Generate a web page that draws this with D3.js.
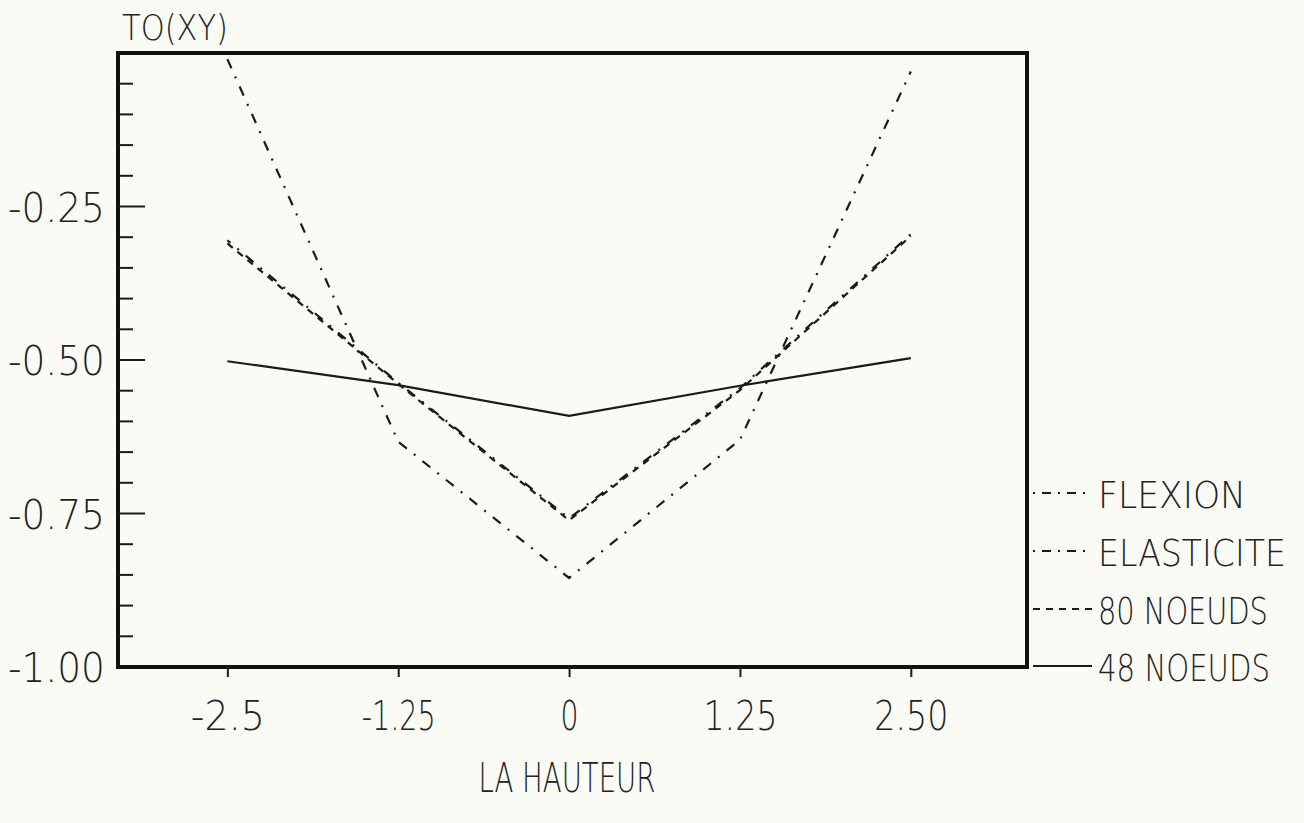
<!DOCTYPE html>
<meta charset="utf-8">
<title>TO(XY) - la hauteur</title>

<style>
body {
  margin: 0px;
  background-color: #fbfbf6;
}
svg {
  background-color: #fbfbf6;
}
text {
  font-family: "DejaVu Sans", sans-serif;
  font-weight: 200;
  fill: #222;
}
.frame {
  fill: none;
  stroke: #111;
  stroke-width: 4;
}
.curve {
  fill: none;
  stroke: #1a1a1a;
  stroke-width: 2.2;
}
</style>

<script src="https://d3js.org/d3.v7.min.js"></script>

<body>
<script>

// Data
var hauteur = [-2.5, -1.25, 0, 1.25, 2.5];
var flexion = [-0.01, -0.633, -0.855, -0.630, -0.03];
var elasticite = [-0.305, -0.537, -0.758, -0.546, -0.295];
var noeuds80 = [-0.31, -0.539, -0.761, -0.549, -0.298];
var noeuds48 = [-0.502, -0.541, -0.591, -0.542, -0.497];

// Tick labels
var xTickLabels = ["-2.5", "-1.25", "0", "1.25", "2.50"];
var yMajorTicks = [-1, -0.75, -0.5, -0.25];
var yTickLabels = ["-1.00", "-0.75", "-0.50", "-0.25"];

// Legend entries
var seriesNames = ["FLEXION", "ELASTICITE", "80 NOEUDS", "48 NOEUDS"];
var seriesData = [flexion, elasticite, noeuds80, noeuds48];
var seriesDash = ["10,9,2,9", "10,9,2,9", "7,6", null];

var width = 1304, height = 823;

var svg = d3.select("body").append("svg")
    .attr("width", width)
    .attr("height", height);

// Squeeze a text horizontally to a given width (narrow plotter lettering)
// anchor: 0 = start, 0.5 = middle, 1 = end
function fitText(sel, x0, y0, w, anchor) {
  sel.each(function(d, i) {
    var t = d3.select(this);
    var tw = typeof w === "function" ? w(d, i) : w;
    var tx = typeof x0 === "function" ? x0(d, i) : x0;
    var ty = typeof y0 === "function" ? y0(d, i) : y0;
    var natural = this.getComputedTextLength();
    var sx = tw / natural;
    t.attr("x", 0).attr("y", 0)
      .attr("text-anchor", "start")
      .attr("transform", "translate(" + (tx - anchor * tw) + "," + ty + ") scale(" + sx + ",1)");
  });
}

// Scales
var x = d3.scaleLinear()
    .domain([-3.3, 3.35])
    .range([118, 1027]);
var y = d3.scaleLinear()
    .domain([-1, 0])
    .range([667, 53]);

// Frame
svg.append("rect")
    .attr("class", "frame")
    .attr("x", x.range()[0])
    .attr("y", y.range()[1])
    .attr("width", x.range()[1] - x.range()[0])
    .attr("height", y.range()[0] - y.range()[1]);

// Y ticks (pointing inward), minor every 0.05
var yMinor = y.ticks(20).filter(function(d) { return d > -1 && d < 0; });
svg.append("g").selectAll("line")
    .data(yMinor)
  .enter().append("line")
    .attr("x1", x.range()[0])
    .attr("x2", function(d) {
      var major = yMajorTicks.some(function(m) { return Math.abs(m - d) < 1e-6; });
      return x.range()[0] + (major ? 27 : 15);
    })
    .attr("y1", function(d) { return y(d); })
    .attr("y2", function(d) { return y(d); })
    .attr("stroke", "#1a1a1a")
    .attr("stroke-width", 2);

// Y tick labels
svg.append("g").selectAll("text")
    .data(yMajorTicks)
  .enter().append("text")
    .style("font-size", "40px")
    .text(function(d, i) { return yTickLabels[i]; })
    .call(fitText, 105, function(d) { return y(d) + 15; }, 97, 1);

// X axis (ticks below the frame)
var xAxis = d3.axisBottom(x)
    .tickValues(hauteur)
    .tickSize(10)
    .tickPadding(26)
    .tickFormat(function(d, i) { return xTickLabels[i]; });

var gx = svg.append("g")
    .attr("transform", "translate(0," + y.range()[0] + ")")
    .call(xAxis);
gx.select(".domain").remove();
gx.selectAll(".tick line")
    .attr("stroke", "#1a1a1a")
    .attr("stroke-width", 2);
gx.selectAll(".tick text")
    .attr("dy", null)
    .style("font-size", "40px")
    .style("font-family", "\"DejaVu Sans\", sans-serif")
    .style("font-weight", "200")
    .attr("fill", "#222")
    .call(fitText, 0, 63, function(d, i) { return i == 2 ? 18 : 74; }, 0.5);

// Axis titles
svg.append("text")
    .style("font-size", "36px")
    .text("TO(XY)")
    .call(fitText, 122, 40, 106, 0);

svg.append("text")
    .style("font-size", "40px")
    .text("LA HAUTEUR")
    .call(fitText, 567, 792, 177, 0.5);

// Curves
var line = d3.line()
    .x(function(d, i) { return x(hauteur[i]); })
    .y(function(d) { return y(d); });

svg.append("g").selectAll("path")
    .data(seriesData)
  .enter().append("path")
    .attr("class", "curve")
    .attr("d", line)
    .attr("stroke-dasharray", function(d, i) { return seriesDash[i]; })
    .attr("stroke-dashoffset", function(d, i) { return i == 1 ? 6 : 0; });

// Legend
var legendY = [493, 551, 609, 666];
var legendW = [148, 188, 170, 172];
var legend = svg.append("g").selectAll("g")
    .data(seriesNames)
  .enter().append("g")
    .attr("transform", function(d, i) { return "translate(0," + legendY[i] + ")"; });

legend.append("line")
    .attr("x1", 1033)
    .attr("x2", 1092)
    .attr("stroke", "#1a1a1a")
    .attr("stroke-width", 2)
    .attr("stroke-dasharray", function(d, i) { return i < 2 ? "2,7,9,7" : seriesDash[i]; });

legend.append("text")
    .style("font-size", "38px")
    .text(function(d) { return d; })
    .each(function(d, i) {
      d3.select(this).call(fitText, 1098, 15, legendW[i], 0);
    });

</script>
